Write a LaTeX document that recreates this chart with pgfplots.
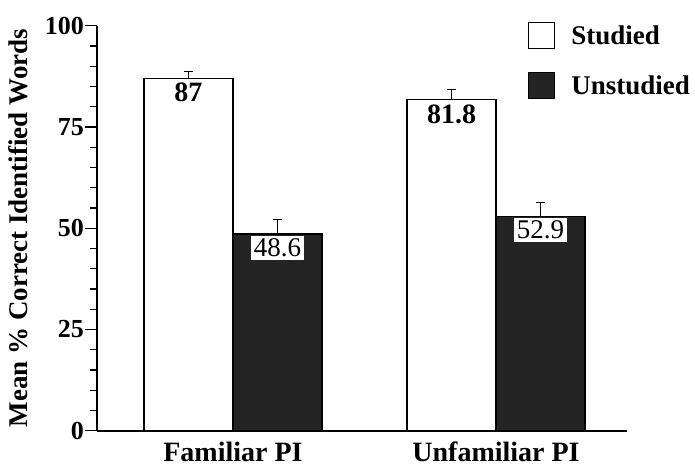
\documentclass[border=0pt]{standalone}
\usepackage{fontspec}
\setmainfont{Liberation Serif}
\usepackage{pgfplots}
\pgfplotsset{compat=1.18}
\begin{document}
\begin{tikzpicture}
\begin{axis}[
  at={(0,0)}, anchor=south west,
  scale only axis, width=530pt, height=405pt,
  xmin=-0.517, xmax=1.498, ymin=0, ymax=100,
  axis x line=bottom, axis y line=left,
  axis line style={-, line width=1.6pt},
  ybar=0pt, bar width=89pt,
  ytick={0,25,50,75,100}, minor ytick={5,10,15,20,30,35,40,45,55,60,65,70,80,85,90,95},
  tick align=outside, major tick length=12pt, minor tick length=7pt,
  y tick style={black, line width=1.2pt},
  xtick={0,1}, xticklabels={Familiar PI, Unfamiliar PI},
  x tick style={draw=none},
  /pgf/number format/assume math mode=true,
  yticklabel style={font=\fontsize{26}{30}\selectfont\bfseries, inner sep=0pt, xshift=-1pt},
  xticklabel style={font=\fontsize{28}{32}\selectfont\bfseries, inner sep=0pt, yshift=1pt},
  ylabel={Mean \% Correct Identified Words},
  every axis y label/.style={at={(rel axis cs:0,0.5)}, anchor=center, xshift=-79pt, rotate=90, font=\fontsize{27}{32}\selectfont\bfseries},
  legend style={at={(rel axis cs:0.813,1.01)}, anchor=north west, draw=none, fill=none, inner sep=0pt, row sep=23pt, font=\fontsize{27}{32}\selectfont\bfseries,
    /tikz/every odd column/.append style={column sep=14pt}},
  legend cell align=left,
  legend image code/.code={\draw[#1, line width=1.2pt] (0pt,-13pt) rectangle (26pt,13pt);},
]
\addplot[fill=white, draw=black, line width=1.3pt,
  nodes near coords={\pgfmathprintnumber[fixed,precision=1]{\pgfplotspointmeta}},
  every node near coord/.append style={anchor=north, font=\fontsize{28}{32}\selectfont\bfseries, yshift=-1pt},
  error bars/.cd, y dir=plus, y explicit,
  error bar style={line width=1.5pt, black},
  error mark options={rotate=90, mark size=4.5pt, line width=1.5pt, black}]
  coordinates {(0,87) +- (0,1.7) (1,81.8) +- (0,2.5)};
\addlegendentry{Studied}
\addplot[fill=black!86, draw=black, line width=1.3pt,
  nodes near coords={\pgfmathprintnumber[fixed,precision=1]{\pgfplotspointmeta}},
  every node near coord/.append style={anchor=north, fill=white, inner sep=3pt, font=\fontsize{27}{31}\selectfont, yshift=-1pt},
  error bars/.cd, y dir=plus, y explicit,
  error bar style={line width=1.5pt, black},
  error mark options={rotate=90, mark size=4.5pt, line width=1.5pt, black}]
  coordinates {(0,48.6) +- (0,3.5) (1,52.9) +- (0,3.5)};
\addlegendentry{Unstudied}
\end{axis}
\pgfresetboundingbox
\path[use as bounding box] (-97pt,-38.3pt) rectangle (598pt,430.7pt);
\end{tikzpicture}
\end{document}
